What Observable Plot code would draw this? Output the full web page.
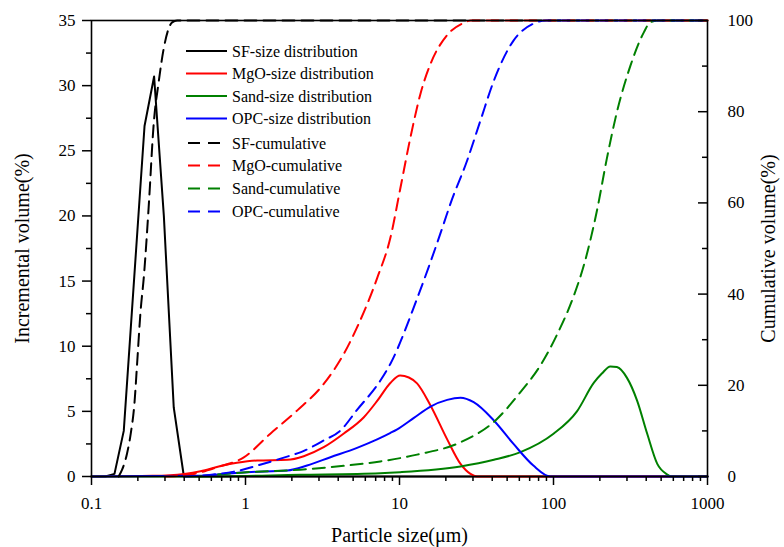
<!DOCTYPE html>
<html><head><meta charset="utf-8">
<script src="https://cdn.jsdelivr.net/npm/d3@7"></script>
<script src="https://cdn.jsdelivr.net/npm/@observablehq/plot@0.6"></script>
<style>body{margin:0;background:#fff;} #chart{width:784px;height:547px;}</style>
</head><body><div id="chart"></div>
<script>
// Particle size (µm), incremental volume (%)
const sfSize = [[0.1,0],[0.123,0],[0.141,0.2],[0.162,3.5],[0.221,26.9],[0.255,30.7],[0.295,20.0],[0.342,5.3],[0.398,0],[1000,0]];
const mgoSize = [[0.1,0],[0.25,0.05],[0.4,0.2],[0.51,0.4],[0.69,0.8],[0.88,1.05],[1.19,1.23],[1.87,1.28],[2.39,1.56],[3.22,2.25],[4.35,3.3],[5.87,4.55],[7.16,5.8],[8.75,7.2],[10.1,7.75],[11.5,7.6],[13.0,7.15],[15.9,5.45],[20.4,2.85],[24.9,0.97],[28.9,0.2],[31.8,0],[1000,0]];
const sandSize = [[0.1,0],[0.5,0],[2.27,0.13],[7.5,0.25],[10.1,0.33],[24.9,0.77],[41,1.28],[61,1.87],[100,3.28],[142,5.0],[183,7.2],[206,7.9],[234,8.45],[258,8.4],[300,7.57],[349,5.83],[406,3.28],[472,0.97],[549,0.15],[580,0],[1000,0]];
const opcSize = [[0.1,0],[0.5,0.05],[0.72,0.2],[1.03,0.33],[1.87,0.46],[2.51,0.84],[3.56,1.48],[5.3,2.2],[7.16,2.85],[8.75,3.35],[9.6,3.6],[12.4,4.5],[15.9,5.37],[20.4,5.88],[24.9,6.04],[30.3,5.7],[41,4.3],[55,2.5],[74,0.84],[95.5,0],[1000,0]];
// Particle size (µm), cumulative volume (%)
const sfCum = [[0.15,0],[0.158,1.5],[0.17,5],[0.18,9.5],[0.19,16],[0.198,25],[0.208,36],[0.219,44],[0.236,60],[0.253,77],[0.273,86.5],[0.295,94],[0.334,99.6],[0.36,100],[1000,100]];
const mgoCum = [[0.3,0],[0.45,0.5],[0.65,2],[0.975,4.2],[1.45,9.4],[2.17,14.5],[3.22,20.3],[4.35,26.9],[5.3,32.7],[7.16,43.5],[8.75,52.5],[10.1,63],[11.8,74.5],[13.7,84],[15.9,90.5],[20.4,96.8],[26.2,99.5],[29,100],[1000,100]];
const sandCum = [[0.5,0],[0.975,0.9],[2.27,1.5],[4.5,2.4],[7.5,3.3],[13,4.8],[24.9,7.5],[42,12.3],[61,18.5],[82,24.3],[105,31],[135,39.5],[158,46.5],[192,58.5],[222,69.7],[258,79.9],[316,90.1],[386,97.4],[425,99.6],[480,100],[1000,100]];
const opcCum = [[0.4,0],[0.6,0.4],[0.88,1.2],[1.31,2.8],[1.96,4.6],[2.27,5.3],[3.22,7.9],[4.14,10.1],[5.3,14.6],[7.5,21],[8.75,24.8],[13,39],[19.4,55.5],[21.4,59.8],[27.5,69.3],[33.5,78],[41,86.8],[55,95.6],[74,99.3],[90,100],[1000,100]];

const seriesNames = ["SF-size distribution","MgO-size distribution","Sand-size distribution","OPC-size distribution","SF-cumulative","MgO-cumulative","Sand-cumulative","OPC-cumulative"];
const seriesColors = ["#000000","#ff0000","#008000","#0000ff","#000000","#ff0000","#008000","#0000ff"];
const xTicks = [0.1,1,10,100,1000];
const yTicks = [0,5,10,15,20,25,30,35];
const yMinor = [2.5,7.5,12.5,17.5,22.5,27.5,32.5];
const cumTicks = [0,20,40,60,80,100];
const cumMinor = [10,30,50,70,90];

const W = 784, H = 547, mL = 91, mR = 77, mT = 20, mB = 71;
const k = 35/100; // cumulative (0-100) mapped onto the left scale (0-35)
const xMinor = [];
for (const dec of [0.1,1,10,100]) for (let m = 2; m <= 9; m++) xMinor.push(+(dec*m).toPrecision(3));

const sizeSets = [sfSize, mgoSize, sandSize, opcSize];
const cumSets = [sfCum, mgoCum, sandCum, opcCum];
const font = "'Liberation Serif','Times New Roman',serif";

const marks = [];
sizeSets.forEach((d,i) => marks.push(Plot.line(d, {x: p=>p[0], y: p=>p[1], stroke: seriesColors[i], strokeWidth: 2, curve: i===0 ? "linear" : "monotone-x"})));
cumSets.forEach((d,i) => marks.push(Plot.line(d, {x: p=>p[0], y: p=>p[1]*k, stroke: seriesColors[i+4], strokeWidth: 2, strokeDasharray: "12,7", curve: "monotone-x"})));
marks.push(
  Plot.frame({stroke: "black", strokeWidth: 1.6}),
  Plot.axisX(xTicks, {anchor: "bottom", tickSize: 9, tickPadding: 11, tickFormat: d => String(d), fontSize: 17, label: null, strokeWidth: 1.5}),
  Plot.axisX(xMinor, {anchor: "bottom", tickSize: 5, tickFormat: () => "", label: null, strokeWidth: 1.5}),
  Plot.axisY(yTicks, {anchor: "left", tickSize: 9, tickPadding: 7, fontSize: 17, label: null, strokeWidth: 1.5}),
  Plot.axisY(yMinor, {anchor: "left", tickSize: 5, tickFormat: () => "", label: null, strokeWidth: 1.5}),
  Plot.axisY(cumTicks.map(v => v*k), {anchor: "right", tickSize: 0, tickPadding: 20, tickFormat: v => String(Math.round(v/k)), fontSize: 17, label: null}),
  Plot.tickY(cumTicks.map(v => v*k), {y: d => d, insetLeft: (W-mL-mR) - 9, strokeWidth: 1.5}),
  Plot.tickY(cumMinor.map(v => v*k), {y: d => d, insetLeft: (W-mL-mR) - 5, strokeWidth: 1.5}),
  Plot.text(["Incremental volume(%)"], {frameAnchor: "left", dx: -69, rotate: -90, fontSize: 20, textAnchor: "middle", lineAnchor: "middle"}),
  Plot.text(["Cumulative volume(%)"], {frameAnchor: "right", dx: 61, rotate: -90, fontSize: 20, textAnchor: "middle", lineAnchor: "middle"}),
  Plot.text(["Particle size(μm)"], {frameAnchor: "bottom", dy: 59, fontSize: 20, textAnchor: "middle", lineAnchor: "middle"})
);

const svg = Plot.plot({
  width: W, height: H, marginLeft: mL, marginRight: mR, marginTop: mT, marginBottom: mB,
  style: {fontFamily: font, fontSize: "17px", color: "black", background: "white"},
  x: {type: "log", domain: [0.1, 1000]},
  y: {domain: [0, 35]},
  marks
});

// legend inside the plot
const rows = [51, 73.5, 96, 118.5, 143, 165.5, 188.5, 211.5];
const g = d3.select(svg).append("g").attr("font-family", font).attr("font-size", 16).attr("text-anchor", "start");
seriesNames.forEach((name, i) => {
  g.append("line").attr("x1", 186).attr("x2", 227).attr("y1", rows[i]).attr("y2", rows[i])
    .attr("stroke", seriesColors[i]).attr("stroke-width", 2)
    .attr("stroke-dasharray", i >= 4 ? "12,8" : null).attr("stroke-dashoffset", i >= 4 ? -2 : 0);
  g.append("text").attr("x", 232).attr("y", rows[i]).attr("dy", "0.35em").attr("text-anchor", "start").attr("fill", "black").text(name);
});
document.getElementById("chart").appendChild(svg);
</script></body></html>
